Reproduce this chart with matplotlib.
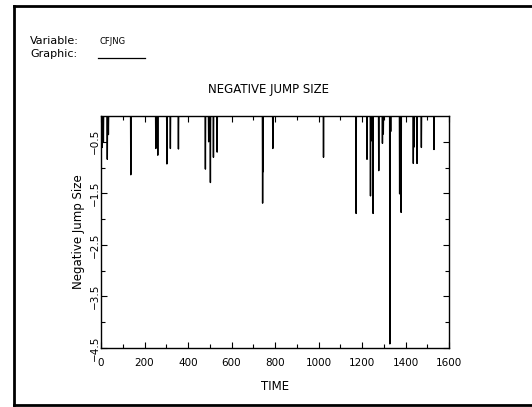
import numpy as np
import matplotlib
matplotlib.use("Agg")
import matplotlib.pyplot as plt
from matplotlib.lines import Line2D
from matplotlib.ticker import MultipleLocator, FixedLocator

# Data: negative jump sizes (time index, jump value); all other times are zero
jump_times = [6, 11, 29, 34, 137, 252, 257, 261, 303, 319, 356, 480, 495, 503,
              517, 534, 743, 745, 790, 1023, 1173, 1223, 1239, 1243, 1251, 1277,
              1294, 1298, 1328, 1332, 1373, 1380, 1436, 1440, 1453, 1473, 1531]
jump_values = [-0.61, -0.50, -0.84, -0.36, -1.14, -0.63, -0.50, -0.76, -0.93,
               -0.63, -0.64, -1.03, -0.50, -1.29, -0.80, -0.70, -1.69, -1.08,
               -0.63, -0.80, -1.89, -0.84, -1.55, -0.48, -1.89, -1.06, -0.53,
               -0.35, -4.42, -0.30, -1.51, -1.87, -0.92, -0.60, -0.92, -0.61,
               -0.65]
n_obs = 1600
x_ticks = [0, 200, 400, 600, 800, 1000, 1200, 1400, 1600]
y_ticks = [-0.5, -1.5, -2.5, -3.5, -4.5]

time = np.arange(1, n_obs + 1)
series = np.zeros(n_obs)
for t, v in zip(jump_times, jump_values):
    series[t - 1] = v

fig = plt.figure(figsize=(5.32, 4.07), dpi=100)
W, H = 532, 407

ax = fig.add_axes([101 / W, 1 - 348 / H, (449 - 101) / W, (348 - 116) / H])
ax.plot(time, series, color="black", linewidth=1.0)
ax.set_xlim(0, 1600)
ax.set_ylim(-4.5, 0)

ax.xaxis.set_major_locator(FixedLocator(x_ticks))
ax.xaxis.set_minor_locator(MultipleLocator(100))
ax.yaxis.set_major_locator(FixedLocator(y_ticks))
ax.yaxis.set_minor_locator(FixedLocator([-1, -2, -3, -4]))
ax.set_xticklabels([str(v) for v in x_ticks])
ax.set_yticklabels(["\u22120.5", "\u22121.5", "\u22122.5", "\u22123.5", "\u22124.5"],
                   rotation=90, va="center")
ax.tick_params(which="both", direction="in", top=True, right=True,
               labelsize=7.5, width=0.8)
ax.tick_params(which="major", length=4)
ax.tick_params(which="minor", length=3)
ax.tick_params(axis="y", pad=1)
ax.tick_params(axis="x", pad=7)
for s in ax.spines.values():
    s.set_linewidth(1.0)

ax.set_xlabel("TIME", fontsize=8.5, labelpad=9)
ax.set_ylabel("Negative Jump Size", fontsize=8.5, labelpad=3)

fig.text(268 / W, 1 - 90 / H, "NEGATIVE JUMP SIZE", ha="center", va="center",
         fontsize=8.5)
fig.text(30 / W, 1 - 41 / H, "Variable:", ha="left", va="center", fontsize=8)
fig.text(99 / W, 1 - 41 / H, "CFJNG", ha="left", va="center", fontsize=6)
fig.text(30 / W, 1 - 54 / H, "Graphic:", ha="left", va="center", fontsize=8)
fig.add_artist(Line2D([98 / W, 145 / W], [1 - 57.5 / H, 1 - 57.5 / H],
                      transform=fig.transFigure, color="black", linewidth=0.9))

# page border (left, top, bottom)
fig.add_artist(Line2D([14 / W, 14 / W], [1 - 6 / H, 1 - 405 / H],
                      transform=fig.transFigure, color="black", linewidth=2))
fig.add_artist(Line2D([14 / W, 1.0], [1 - 6 / H, 1 - 6 / H],
                      transform=fig.transFigure, color="black", linewidth=2))
fig.add_artist(Line2D([14 / W, 1.0], [1 - 405 / H, 1 - 405 / H],
                      transform=fig.transFigure, color="black", linewidth=2))

fig.savefig("out.png", dpi=100)
